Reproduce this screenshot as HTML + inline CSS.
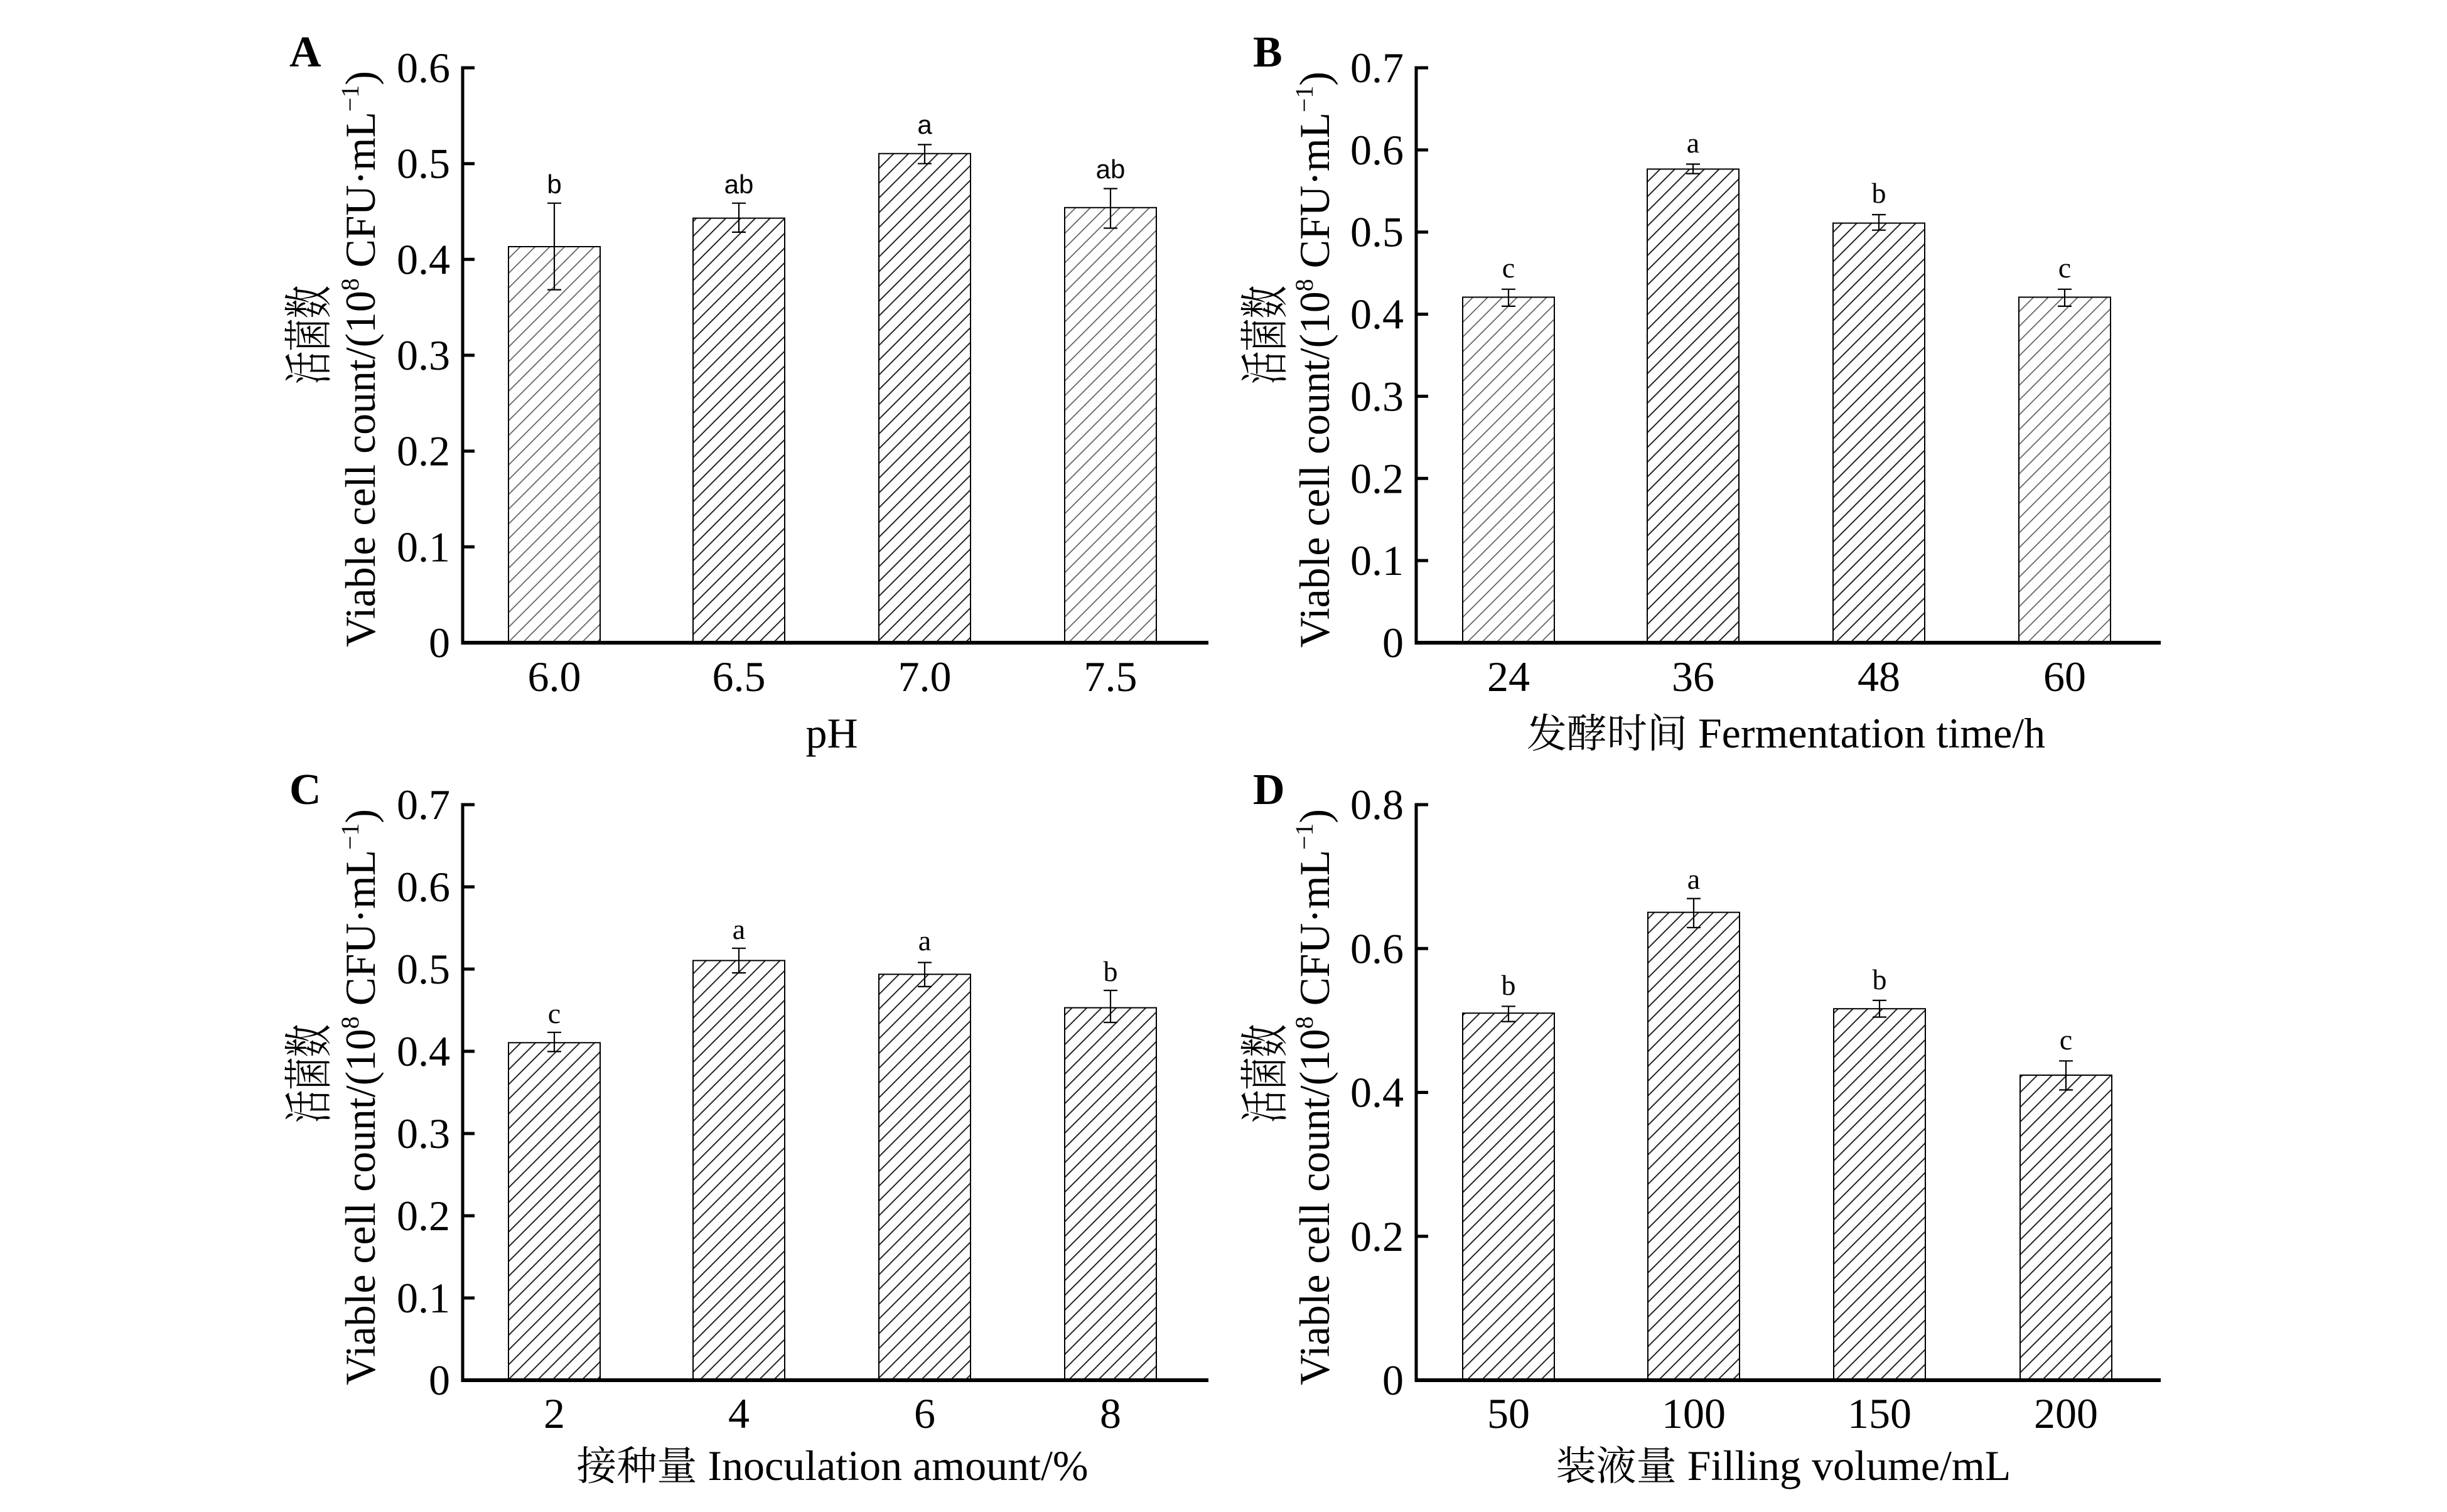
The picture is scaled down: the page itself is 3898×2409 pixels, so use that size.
<!DOCTYPE html>
<html>
<head>
<meta charset="utf-8">
<style>
html,body{margin:0;padding:0;background:#fff;}
svg{display:block;}
text{font-family:"Liberation Serif","Noto Serif CJK SC",serif;fill:#000;}
.cjk{font-family:"Noto Serif CJK SC","Noto Sans CJK SC",serif;}
.sig{font-family:"Liberation Serif",serif;font-size:46px;}
.sigA{font-family:"Liberation Sans Narrow","Liberation Sans",sans-serif;font-size:42px;}
</style>
</head>
<body>
<svg width="3898" height="2409" viewBox="0 0 3898 2409" xmlns="http://www.w3.org/2000/svg">
<defs>
  <pattern id="hd" patternUnits="userSpaceOnUse" width="23.5" height="23.5">
    <path d="M0,23.5 L23.5,0 M-3,3 L3,-3 M20.5,26.5 L26.5,20.5" stroke="#222" stroke-width="2" fill="none"/>
  </pattern>
  <pattern id="hl" patternUnits="userSpaceOnUse" width="23.5" height="23.5">
    <path d="M0,23.5 L23.5,0 M-3,3 L3,-3 M20.5,26.5 L26.5,20.5" stroke="#666" stroke-width="1.8" fill="none"/>
  </pattern>
</defs>
<rect width="3898" height="2409" fill="#fff"/>

<!-- ================= Panel A ================= -->
<text x="461" y="106" font-size="70" font-weight="bold">A</text>
<g stroke="#000" stroke-width="2">
  <rect x="810" y="393" width="146" height="631" fill="url(#hl)"/>
  <rect x="1104" y="347.6" width="146" height="676.4" fill="url(#hd)"/>
  <rect x="1400" y="244.7" width="146" height="779.3" fill="url(#hd)"/>
  <rect x="1696" y="330.8" width="146" height="693.2" fill="url(#hl)"/>
</g>
<g stroke="#000" stroke-width="2.2" fill="none">
  <path d="M883,323.7 V461.6 M872,323.7 H894 M872,461.6 H894"/>
  <path d="M1177,323.7 V369.9 M1166,323.7 H1188 M1166,369.9 H1188"/>
  <path d="M1473,230.4 V260.7 M1462,230.4 H1484 M1462,260.7 H1484"/>
  <path d="M1769,300.5 V363.5 M1758,300.5 H1780 M1758,363.5 H1780"/>
</g>
<g class="sigA" text-anchor="middle">
  <text class="sigA" x="883" y="308">b</text>
  <text class="sigA" x="1177" y="308">ab</text>
  <text class="sigA" x="1473" y="213">a</text>
  <text class="sigA" x="1769" y="284">ab</text>
</g>
<g stroke="#000" fill="none">
  <path d="M737,105.5 V1026" stroke-width="5"/>
  <path d="M734.5,1024 H1925" stroke-width="6"/>
  <path d="M737,108 H756 M737,260.7 H756 M737,413.3 H756 M737,566 H756 M737,718.7 H756 M737,871.3 H756" stroke-width="5"/>
</g>
<g font-size="68" text-anchor="end">
  <text x="717" y="131">0.6</text>
  <text x="717" y="283.7">0.5</text>
  <text x="717" y="436.3">0.4</text>
  <text x="717" y="589">0.3</text>
  <text x="717" y="741.7">0.2</text>
  <text x="717" y="894.3">0.1</text>
  <text x="717" y="1047">0</text>
</g>
<g font-size="68" text-anchor="middle">
  <text x="883" y="1101">6.0</text>
  <text x="1177" y="1101">6.5</text>
  <text x="1473" y="1101">7.0</text>
  <text x="1769" y="1101">7.5</text>
  <text x="1325" y="1191">pH</text>
</g>
<text class="cjk" font-size="78" transform="translate(519,612) rotate(-90)" textLength="157" lengthAdjust="spacingAndGlyphs">活菌数</text>
<text font-size="68" transform="translate(597,1031) rotate(-90)" textLength="918" lengthAdjust="spacingAndGlyphs">Viable cell count/(10<tspan font-size="40" dy="-26">8</tspan><tspan dy="26"> CFU·mL</tspan><tspan font-size="40" dy="-26">−1</tspan><tspan dy="26">)</tspan></text>

<!-- ================= Panel B ================= -->
<text x="1996" y="106" font-size="70" font-weight="bold">B</text>
<g stroke="#000" stroke-width="2">
  <rect x="2330" y="473.5" width="146" height="550.5" fill="url(#hl)"/>
  <rect x="2624" y="269.4" width="146" height="754.6" fill="url(#hd)"/>
  <rect x="2920" y="355.5" width="146" height="668.5" fill="url(#hd)"/>
  <rect x="3216" y="473.5" width="146" height="550.5" fill="url(#hl)"/>
</g>
<g stroke="#000" stroke-width="2.2" fill="none">
  <path d="M2403,460.8 V487.9 M2392,460.8 H2414 M2392,487.9 H2414"/>
  <path d="M2697,261.5 V276.6 M2686,261.5 H2708 M2686,276.6 H2708"/>
  <path d="M2993,342 V366.7 M2982,342 H3004 M2982,366.7 H3004"/>
  <path d="M3289,460.8 V487.9 M3278,460.8 H3300 M3278,487.9 H3300"/>
</g>
<g text-anchor="middle">
  <text class="sig" x="2403" y="442">c</text>
  <text class="sig" x="2697" y="243">a</text>
  <text class="sig" x="2993" y="323">b</text>
  <text class="sig" x="3289" y="442">c</text>
</g>
<g stroke="#000" fill="none">
  <path d="M2256,105.5 V1026" stroke-width="5"/>
  <path d="M2253.5,1024 H3442" stroke-width="6"/>
  <path d="M2256,108 H2275 M2256,238.9 H2275 M2256,369.7 H2275 M2256,500.6 H2275 M2256,631.4 H2275 M2256,762.3 H2275 M2256,893.1 H2275" stroke-width="5"/>
</g>
<g font-size="68" text-anchor="end">
  <text x="2236" y="131">0.7</text>
  <text x="2236" y="261.9">0.6</text>
  <text x="2236" y="392.7">0.5</text>
  <text x="2236" y="523.6">0.4</text>
  <text x="2236" y="654.4">0.3</text>
  <text x="2236" y="785.3">0.2</text>
  <text x="2236" y="916.1">0.1</text>
  <text x="2236" y="1047">0</text>
</g>
<g font-size="68" text-anchor="middle">
  <text x="2403" y="1101">24</text>
  <text x="2697" y="1101">36</text>
  <text x="2993" y="1101">48</text>
  <text x="3289" y="1101">60</text>
  <text x="2845" y="1191"><tspan class="cjk" font-size="64">发酵时间</tspan> Fermentation time/h</text>
</g>
<text class="cjk" font-size="78" transform="translate(2042,612) rotate(-90)" textLength="157" lengthAdjust="spacingAndGlyphs">活菌数</text>
<text font-size="68" transform="translate(2117,1032) rotate(-90)" textLength="918" lengthAdjust="spacingAndGlyphs">Viable cell count/(10<tspan font-size="40" dy="-26">8</tspan><tspan dy="26"> CFU·mL</tspan><tspan font-size="40" dy="-26">−1</tspan><tspan dy="26">)</tspan></text>

<!-- ================= Panel C ================= -->
<text x="461" y="1281" font-size="70" font-weight="bold">C</text>
<g stroke="#000" stroke-width="2">
  <rect x="810" y="1661.3" width="146" height="537.7" fill="url(#hd)"/>
  <rect x="1104" y="1530.4" width="146" height="668.6" fill="url(#hd)"/>
  <rect x="1400" y="1552.3" width="146" height="646.7" fill="url(#hd)"/>
  <rect x="1696" y="1605.6" width="146" height="593.4" fill="url(#hd)"/>
</g>
<g stroke="#000" stroke-width="2.2" fill="none">
  <path d="M883,1644.8 V1675.4 M872,1644.8 H894 M872,1675.4 H894"/>
  <path d="M1177,1510.8 V1550 M1166,1510.8 H1188 M1166,1550 H1188"/>
  <path d="M1473,1533.5 V1571.9 M1462,1533.5 H1484 M1462,1571.9 H1484"/>
  <path d="M1769,1578 V1629 M1758,1578 H1780 M1758,1629 H1780"/>
</g>
<g text-anchor="middle">
  <text class="sig" x="883" y="1630">c</text>
  <text class="sig" x="1177" y="1496">a</text>
  <text class="sig" x="1473" y="1514">a</text>
  <text class="sig" x="1769" y="1563">b</text>
</g>
<g stroke="#000" fill="none">
  <path d="M737,1279.5 V2201" stroke-width="5"/>
  <path d="M734.5,2199 H1925" stroke-width="6"/>
  <path d="M737,1282 H756 M737,1413 H756 M737,1544 H756 M737,1675 H756 M737,1806 H756 M737,1937 H756 M737,2068 H756" stroke-width="5"/>
</g>
<g font-size="68" text-anchor="end">
  <text x="717" y="1305">0.7</text>
  <text x="717" y="1436">0.6</text>
  <text x="717" y="1567">0.5</text>
  <text x="717" y="1698">0.4</text>
  <text x="717" y="1829">0.3</text>
  <text x="717" y="1960">0.2</text>
  <text x="717" y="2091">0.1</text>
  <text x="717" y="2222">0</text>
</g>
<g font-size="68" text-anchor="middle">
  <text x="883" y="2275">2</text>
  <text x="1177" y="2275">4</text>
  <text x="1473" y="2275">6</text>
  <text x="1769" y="2275">8</text>
  <text x="1326" y="2358"><tspan class="cjk" font-size="64">接种量</tspan> Inoculation amount/%</text>
</g>
<text class="cjk" font-size="78" transform="translate(519,1789) rotate(-90)" textLength="157" lengthAdjust="spacingAndGlyphs">活菌数</text>
<text font-size="68" transform="translate(597,2207) rotate(-90)" textLength="918" lengthAdjust="spacingAndGlyphs">Viable cell count/(10<tspan font-size="40" dy="-26">8</tspan><tspan dy="26"> CFU·mL</tspan><tspan font-size="40" dy="-26">−1</tspan><tspan dy="26">)</tspan></text>

<!-- ================= Panel D ================= -->
<text x="1996" y="1281" font-size="70" font-weight="bold">D</text>
<g stroke="#000" stroke-width="2">
  <rect x="2330" y="1614.2" width="146" height="584.8" fill="url(#hd)"/>
  <rect x="2625" y="1453.6" width="146" height="745.4" fill="url(#hd)"/>
  <rect x="2921" y="1607.2" width="146" height="591.8" fill="url(#hd)"/>
  <rect x="3218" y="1713" width="146" height="486" fill="url(#hd)"/>
</g>
<g stroke="#000" stroke-width="2.2" fill="none">
  <path d="M2403,1603.3 V1627.6 M2392,1603.3 H2414 M2392,1627.6 H2414"/>
  <path d="M2698,1431.6 V1477.9 M2687,1431.6 H2709 M2687,1477.9 H2709"/>
  <path d="M2994,1593.9 V1620.5 M2983,1593.9 H3005 M2983,1620.5 H3005"/>
  <path d="M3291,1690.3 V1736.5 M3280,1690.3 H3302 M3280,1736.5 H3302"/>
</g>
<g text-anchor="middle">
  <text class="sig" x="2403" y="1585">b</text>
  <text class="sig" x="2698" y="1416">a</text>
  <text class="sig" x="2994" y="1576">b</text>
  <text class="sig" x="3291" y="1672">c</text>
</g>
<g stroke="#000" fill="none">
  <path d="M2256,1279.5 V2201" stroke-width="5"/>
  <path d="M2253.5,2199 H3442" stroke-width="6"/>
  <path d="M2256,1282 H2275 M2256,1511.25 H2275 M2256,1740.5 H2275 M2256,1969.75 H2275" stroke-width="5"/>
</g>
<g font-size="68" text-anchor="end">
  <text x="2236" y="1305">0.8</text>
  <text x="2236" y="1534.25">0.6</text>
  <text x="2236" y="1763.5">0.4</text>
  <text x="2236" y="1992.75">0.2</text>
  <text x="2236" y="2222">0</text>
</g>
<g font-size="68" text-anchor="middle">
  <text x="2403" y="2275">50</text>
  <text x="2698" y="2275">100</text>
  <text x="2994" y="2275">150</text>
  <text x="3291" y="2275">200</text>
  <text x="2841" y="2358"><tspan class="cjk" font-size="64">装液量</tspan> Filling volume/mL</text>
</g>
<text class="cjk" font-size="78" transform="translate(2042,1789) rotate(-90)" textLength="157" lengthAdjust="spacingAndGlyphs">活菌数</text>
<text font-size="68" transform="translate(2117,2207) rotate(-90)" textLength="918" lengthAdjust="spacingAndGlyphs">Viable cell count/(10<tspan font-size="40" dy="-26">8</tspan><tspan dy="26"> CFU·mL</tspan><tspan font-size="40" dy="-26">−1</tspan><tspan dy="26">)</tspan></text>
</svg>
</body>
</html>
